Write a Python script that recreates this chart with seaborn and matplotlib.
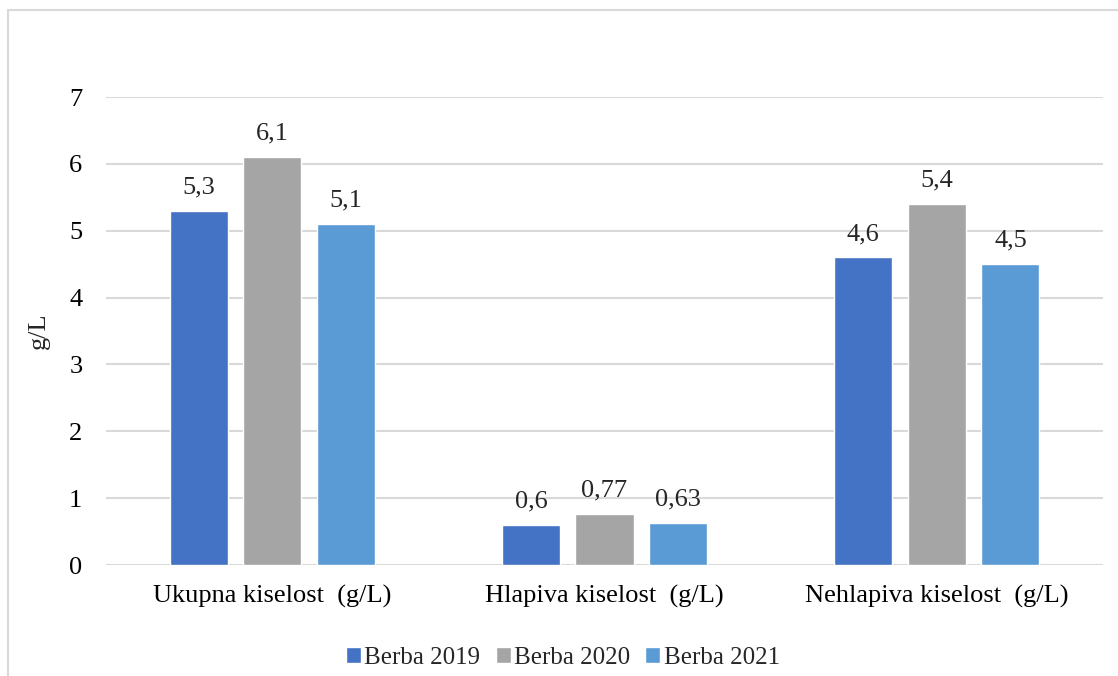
import matplotlib
matplotlib.use("Agg")
import matplotlib.pyplot as plt
from matplotlib.lines import Line2D
import seaborn as sns
import pandas as pd

categories = ["Ukupna kiselost  (g/L)", "Hlapiva kiselost  (g/L)", "Nehlapiva kiselost  (g/L)"]
series = ["Berba 2019", "Berba 2020", "Berba 2021"]
berba_2019 = [5.3, 0.6, 4.6]
berba_2020 = [6.1, 0.77, 5.4]
berba_2021 = [5.1, 0.63, 4.5]
colors = ["#4472C4", "#A5A5A5", "#5B9BD5"]
y_ticks = [0, 1, 2, 3, 4, 5, 6, 7]

rows = []
for name, vals in zip(series, [berba_2019, berba_2020, berba_2021]):
    for cat, v in zip(categories, vals):
        rows.append({"kategorija": cat, "serija": name, "vrijednost": v})
df = pd.DataFrame(rows)

sns.set_theme(style="white")
plt.rcParams["font.family"] = ["Liberation Serif", "DejaVu Serif"]

FS = 19

fig = plt.figure(figsize=(11.18, 6.76), dpi=100)
ax = fig.add_axes([106 / 1118, 1 - 565 / 676, 997 / 1118, 468 / 676])

sns.barplot(data=df, x="kategorija", y="vrijednost", hue="serija",
            palette=colors, width=0.664, gap=0.21, ax=ax,
            errorbar=None, saturation=1, legend=True)

ax.set_ylim(0, 7)
ax.set_yticks(y_ticks)
ax.grid(axis="y", color="#d9d9d9", linewidth=1.5)
ax.set_axisbelow(True)
for s in ax.spines.values():
    s.set_visible(False)
ax.tick_params(axis="both", length=0, labelsize=FS, colors="black")
ax.tick_params(axis="y", pad=17)
ax.tick_params(axis="x", pad=14)
ax.set_xlabel("")
ax.set_ylabel("g/L", fontsize=FS, labelpad=14)

for cont in ax.containers:
    ax.bar_label(cont, labels=[f"{v:g}".replace(".", ",") for v in cont.datavalues],
                 padding=9, fontsize=FS)

handles, labels = ax.get_legend_handles_labels()
ax.get_legend().remove()
fig.legend(handles, labels, loc="center", bbox_to_anchor=(563 / 1118, 1 - 658 / 676),
           ncol=3, frameon=False, fontsize=18, handlelength=0.6, handleheight=0.6,
           handletextpad=0.15, columnspacing=0.6)

# outer chart frame (top and left edges)
fy = 1 - 10 / 676
fx = 8 / 1118
fig.add_artist(Line2D([fx, 1], [fy, fy], transform=fig.transFigure, color="#d9d9d9", linewidth=1.5))
fig.add_artist(Line2D([fx, fx], [0, fy], transform=fig.transFigure, color="#d9d9d9", linewidth=1.5))

fig.savefig("out.png", dpi=100, facecolor="white")
